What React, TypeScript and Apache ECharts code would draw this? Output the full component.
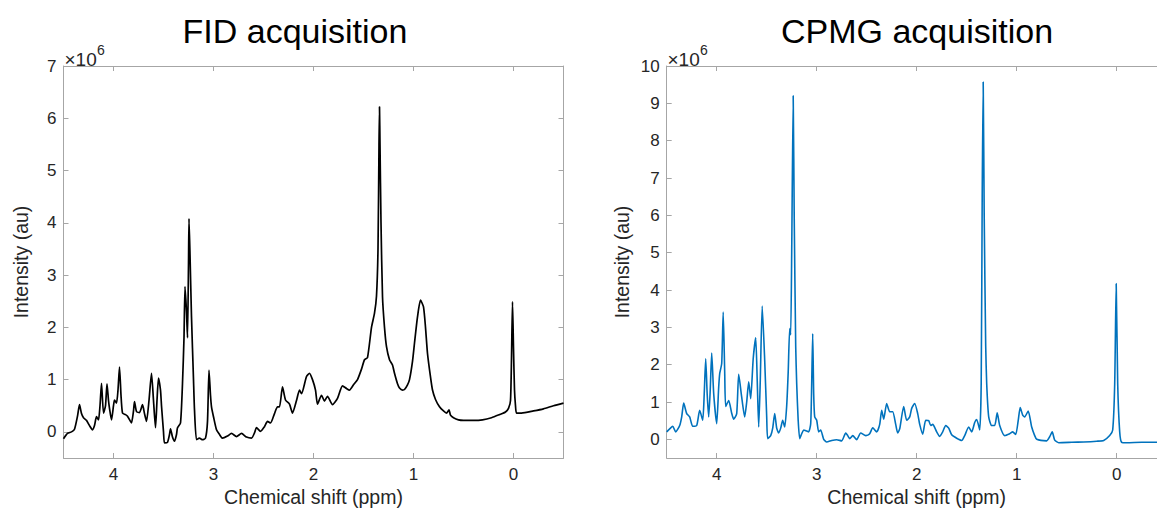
import React, { useEffect, useRef } from "react";
import * as echarts from "echarts";

// FID acquisition spectrum (ppm, intensity ×10^6)
const fidPpm = [
  4.5, 4.46, 4.42, 4.39, 4.36, 4.34, 4.32, 4.3, 4.27, 4.24, 4.21, 4.19, 4.17, 4.15, 4.135, 4.12, 4.1, 4.08, 4.065, 4.05,
  4.04, 4.02, 4.0, 3.99, 3.97, 3.955, 3.94, 3.925, 3.91, 3.88, 3.86, 3.83, 3.82, 3.8, 3.79, 3.77, 3.74, 3.71, 3.69, 3.67,
  3.645, 3.62, 3.6, 3.58, 3.565, 3.55, 3.53, 3.52, 3.5, 3.49, 3.46, 3.44, 3.43, 3.41, 3.39, 3.37, 3.36, 3.33, 3.31, 3.295,
  3.285, 3.27, 3.26, 3.25, 3.245, 3.235, 3.22, 3.2, 3.19, 3.17, 3.14, 3.11, 3.08, 3.06, 3.045, 3.03, 3.02, 3.0, 2.97, 2.94,
  2.91, 2.86, 2.82, 2.77, 2.72, 2.67, 2.62, 2.59, 2.57, 2.53, 2.49, 2.46, 2.43, 2.39, 2.36, 2.34, 2.31, 2.28, 2.24, 2.21,
  2.17, 2.14, 2.12, 2.07, 2.04, 2.01, 1.98, 1.96, 1.92, 1.89, 1.86, 1.81, 1.76, 1.71, 1.67, 1.64, 1.6, 1.56, 1.52, 1.49,
  1.46, 1.42, 1.39, 1.37, 1.355, 1.345, 1.34, 1.335, 1.325, 1.31, 1.29, 1.27, 1.24, 1.21, 1.19, 1.16, 1.14, 1.11, 1.09, 1.06,
  1.04, 1.01, 0.99, 0.96, 0.93, 0.9, 0.88, 0.86, 0.83, 0.81, 0.78, 0.74, 0.7, 0.67, 0.645, 0.63, 0.6, 0.55, 0.5, 0.4,
  0.31, 0.22, 0.14, 0.08, 0.05, 0.03, 0.02, 0.01, 0.0, -0.01, -0.02, -0.03, -0.08, -0.2, -0.3, -0.4, -0.5,
];
const fidVal = [
  -0.13, -0.03, 0.0, 0.05, 0.3, 0.52, 0.35, 0.27, 0.22, 0.12, 0.04, 0.12, 0.29, 0.23, 0.5, 0.93, 0.36, 0.5, 0.92, 0.6,
  0.45, 0.23, 0.5, 0.61, 0.55, 0.8, 1.24, 0.7, 0.36, 0.33, 0.3, 0.2, 0.17, 0.4, 0.58, 0.39, 0.37, 0.52, 0.35, 0.2,
  0.6, 1.12, 0.6, 0.08, 0.6, 1.03, 0.8, 0.5, 0.0, -0.21, -0.2, -0.05, 0.06, -0.1, -0.18, -0.05, 0.08, 0.17, 0.93, 1.8,
  2.78, 2.3, 1.8, 3.2, 4.08, 3.4, 2.2, 1.0, 0.42, -0.15, -0.12, -0.15, -0.12, 0.2, 1.18, 0.7, 0.48, 0.29, 0.04, -0.05,
  -0.12, -0.08, -0.03, -0.09, -0.03, -0.1, -0.12, -0.02, 0.08, 0.01, 0.1, 0.2, 0.17, 0.35, 0.48, 0.48, 0.86, 0.61, 0.53, 0.36,
  0.6, 0.8, 0.73, 1.06, 1.12, 1.0, 0.8, 0.53, 0.7, 0.59, 0.68, 0.52, 0.64, 0.88, 0.83, 0.8, 0.9, 1.0, 1.2, 1.38,
  1.42, 2.0, 2.27, 2.6, 3.5, 5.5, 6.22, 5.5, 4.0, 2.59, 2.0, 1.63, 1.38, 1.28, 1.12, 0.92, 0.84, 0.8, 0.81, 0.9,
  1.0, 1.35, 1.7, 2.2, 2.52, 2.39, 2.0, 1.5, 1.05, 0.8, 0.62, 0.48, 0.4, 0.36, 0.42, 0.32, 0.27, 0.23, 0.22, 0.22,
  0.23, 0.27, 0.33, 0.38, 0.45, 0.6, 1.4, 2.49, 1.6, 0.8, 0.5, 0.36, 0.36, 0.4, 0.44, 0.5, 0.55,
];

// CPMG acquisition spectrum (ppm, intensity ×10^6)
const cpmgPpm = [
  4.5, 4.47, 4.44, 4.41, 4.37, 4.35, 4.33, 4.3, 4.27, 4.24, 4.2, 4.17, 4.14, 4.125, 4.11, 4.095, 4.08, 4.065, 4.05, 4.03,
  4.0, 3.98, 3.97, 3.95, 3.935, 3.92, 3.91, 3.88, 3.85, 3.83, 3.8, 3.78, 3.75, 3.72, 3.7, 3.68, 3.66, 3.635, 3.61, 3.595,
  3.58, 3.565, 3.545, 3.52, 3.5, 3.49, 3.46, 3.44, 3.42, 3.4, 3.38, 3.36, 3.34, 3.32, 3.3, 3.285, 3.27, 3.26, 3.25, 3.235,
  3.225, 3.21, 3.2, 3.185, 3.17, 3.15, 3.13, 3.1, 3.08, 3.06, 3.05, 3.04, 3.03, 3.02, 3.0, 2.98, 2.96, 2.93, 2.9, 2.85,
  2.8, 2.75, 2.71, 2.69, 2.67, 2.64, 2.6, 2.56, 2.51, 2.47, 2.44, 2.4, 2.37, 2.35, 2.33, 2.3, 2.27, 2.24, 2.21, 2.19,
  2.17, 2.13, 2.1, 2.07, 2.05, 2.02, 1.99, 1.97, 1.94, 1.91, 1.88, 1.86, 1.84, 1.8, 1.77, 1.74, 1.71, 1.68, 1.65, 1.6,
  1.55, 1.52, 1.48, 1.45, 1.42, 1.4, 1.37, 1.355, 1.345, 1.335, 1.325, 1.31, 1.3, 1.28, 1.25, 1.22, 1.195, 1.17, 1.12, 1.07,
  1.04, 1.01, 0.985, 0.965, 0.94, 0.92, 0.885, 0.85, 0.82, 0.8, 0.7, 0.67, 0.645, 0.62, 0.58, 0.45, 0.33, 0.2, 0.13, 0.07,
  0.04, 0.02, 0.005, -0.01, -0.03, -0.05, -0.1, -0.25, -0.4, -0.5,
];
const cpmgVal = [
  0.2, 0.28, 0.35, 0.2, 0.37, 0.6, 0.97, 0.69, 0.6, 0.35, 0.37, 0.78, 0.51, 1.2, 2.16, 1.2, 0.6, 1.3, 2.31, 1.22,
  0.42, 1.4, 1.76, 2.03, 3.41, 1.8, 0.88, 1.04, 0.7, 0.54, 0.69, 1.74, 1.13, 0.6, 1.0, 1.54, 1.09, 2.16, 2.72, 1.6,
  0.33, 1.5, 3.57, 2.12, 0.6, 0.02, 0.1, 0.3, 0.69, 0.3, 0.17, 0.3, 0.51, 0.33, 0.9, 1.8, 2.97, 2.8, 5.0, 9.2,
  6.0, 2.5, 1.49, 0.5, 0.02, 0.15, 0.25, 0.22, 0.2, 0.42, 1.5, 2.83, 1.2, 0.6, 0.51, 0.2, 0.25, 0.0, -0.07, -0.03,
  -0.01, -0.04, 0.17, 0.1, 0.02, 0.1, -0.01, 0.17, 0.1, 0.15, 0.31, 0.2, 0.4, 0.78, 0.54, 0.96, 0.74, 0.74, 0.4, 0.17,
  0.28, 0.88, 0.51, 0.6, 0.83, 0.96, 0.69, 0.4, 0.14, 0.51, 0.5, 0.37, 0.4, 0.2, 0.08, 0.2, 0.37, 0.3, 0.12, 0.03,
  -0.03, 0.1, 0.33, 0.2, 0.45, 0.53, 0.25, 1.5, 6.5, 9.57, 6.0, 2.5, 1.49, 0.6, 0.37, 0.37, 0.71, 0.37, 0.1, 0.15,
  0.2, 0.13, 0.5, 0.85, 0.65, 0.6, 0.76, 0.33, 0.1, 0.0, -0.04, 0.07, 0.2, -0.02, -0.09, -0.08, -0.07, -0.05, -0.03, 0.1,
  0.25, 1.48, 4.17, 1.48, 0.2, -0.08, -0.09, -0.08, -0.08, -0.08,
];

const xTicks = [0, 1, 2, 3, 4];
const fidYTicks = [0, 1, 2, 3, 4, 5, 6, 7];
const cpmgYTicks = [0, 1, 2, 3, 4, 5, 6, 7, 8, 9, 10];
const titles = ["FID acquisition", "CPMG acquisition"];
const xName = "Chemical shift (ppm)";
const yName = "Intensity (au)";

const FONT = "'Liberation Sans', Arial, Helvetica, sans-serif";
const AXIS_COLOR = "#a6a6a6";
const LABEL_COLOR = "#262626";

// the chart canvas is wider than the page so that the right panel is cut off like in the reference
const CHART_W = 1180;
const GRIDS = [
  { left: 63.5, top: 66, width: 500, height: 392 },
  { left: 666.7, top: 66, width: 500, height: 392 },
];

function xAxes(gridIndex: number) {
  const common = {
    gridIndex,
    type: "value" as const,
    min: -0.5,
    max: 4.5,
    inverse: true,
    splitLine: { show: false },
    axisLine: { show: true, onZero: false, lineStyle: { color: AXIS_COLOR, width: 1 } },
    axisTick: { show: true, inside: true, length: 5, customValues: xTicks, lineStyle: { color: AXIS_COLOR } },
  };
  return [
    {
      ...common,
      position: "bottom",
      axisLabel: { customValues: xTicks, fontSize: 17, color: LABEL_COLOR, fontFamily: FONT, margin: 8 },
    },
    { ...common, position: "top", axisLabel: { show: false } },
  ];
}

function yAxes(gridIndex: number, max: number, ticks: number[]) {
  const common = {
    gridIndex,
    type: "value" as const,
    min: -0.5,
    max,
    splitLine: { show: false },
    axisLine: { show: true, onZero: false, lineStyle: { color: AXIS_COLOR, width: 1 } },
    axisTick: { show: true, inside: true, length: 5, customValues: ticks, lineStyle: { color: AXIS_COLOR } },
  };
  return [
    {
      ...common,
      position: "left",
      axisLabel: { customValues: ticks, fontSize: 17, color: LABEL_COLOR, fontFamily: FONT, margin: 7 },
    },
    { ...common, position: "right", axisLabel: { show: false } },
  ];
}

function text(x: number, y: number, t: string, size: number, color: string, extra: any = {}) {
  return {
    type: "text",
    x,
    y,
    silent: true,
    ...extra,
    style: {
      text: t,
      fill: color,
      font: `${size}px ${FONT}`,
      align: extra.align || "center",
      verticalAlign: "middle",
    },
  };
}

export default function App() {
  const ref = useRef<HTMLDivElement>(null);
  useEffect(() => {
    if (!ref.current) return;
    const chart = echarts.init(ref.current, undefined, { renderer: "svg" });
    const fidData = fidPpm.map((p, i) => [p, fidVal[i]]);
    const cpmgData = cpmgPpm.map((p, i) => [p, cpmgVal[i]]);
    chart.setOption({
      animation: false,
      grid: GRIDS.map((g) => ({ ...g, containLabel: false })),
      xAxis: [...xAxes(0), ...xAxes(1)],
      yAxis: [...yAxes(0, 7, fidYTicks), ...yAxes(1, 10, cpmgYTicks)],
      series: [
        {
          type: "line",
          xAxisIndex: 0,
          yAxisIndex: 0,
          data: fidData,
          showSymbol: false,
          symbol: "none",
          smooth: 0.2,
          lineStyle: { color: "#000000", width: 1.7 },
        },
        {
          type: "line",
          xAxisIndex: 2,
          yAxisIndex: 2,
          data: cpmgData,
          showSymbol: false,
          symbol: "none",
          smooth: 0.2,
          lineStyle: { color: "#0072BD", width: 1.6 },
        },
      ],
      graphic: [
        text(295, 31, titles[0], 34, "#000000"),
        text(917, 31, titles[1], 34, "#000000"),
        text(313.5, 497, xName, 19.5, LABEL_COLOR),
        text(916.7, 497, xName, 19.5, LABEL_COLOR),
        text(20.5, 262, yName, 19.5, LABEL_COLOR, { rotation: Math.PI / 2 }),
        text(622, 262, yName, 19.5, LABEL_COLOR, { rotation: Math.PI / 2 }),
        text(64.5, 59, "×10", 19, LABEL_COLOR, { align: "left" }),
        text(97, 50, "6", 14, LABEL_COLOR, { align: "left" }),
        text(667.5, 59, "×10", 19, LABEL_COLOR, { align: "left" }),
        text(700, 50, "6", 14, LABEL_COLOR, { align: "left" }),
      ],
    });
    return () => chart.dispose();
  }, []);
  return (
    <div
      style={{ position: "absolute", left: 0, top: 0, width: 1157, height: 508, overflow: "hidden", background: "#ffffff" }}
    >
      <div ref={ref} style={{ width: CHART_W, height: 508 }} />
    </div>
  );
}
